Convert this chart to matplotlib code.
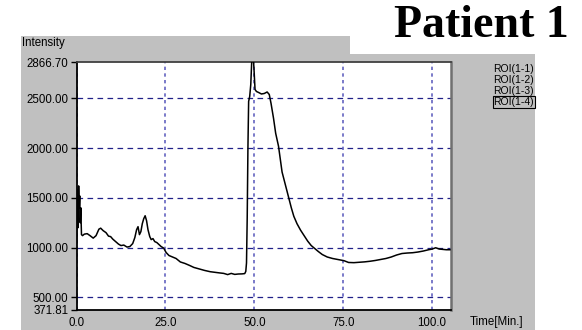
import matplotlib
matplotlib.use('Agg')
import matplotlib.pyplot as plt
from matplotlib.patches import Rectangle

# trace (minutes, intensity)
time = [0.0, 0.15, 0.3, 0.45, 0.6, 0.75, 0.9, 1.05, 1.2, 1.4,
        1.7, 2.2, 3.0, 3.8, 4.7, 5.5, 6.3, 6.8, 7.5, 8.3,
        9.0, 9.6, 10.2, 11.0, 11.8, 12.5, 13.3, 14.2, 15.0, 15.8,
        16.4, 16.9, 17.3, 17.7, 18.1, 18.5, 18.9, 19.3, 19.7, 20.1,
        20.6, 21.0, 21.5, 22.0, 22.6, 23.2, 23.8, 24.5, 25.2, 26.0,
        27.0, 28.0, 29.2, 30.5, 31.8, 33.0, 34.5, 36.0, 37.6, 39.0,
        40.2, 41.4, 42.5, 43.5, 44.5, 45.5, 46.5, 47.3, 47.6, 47.8,
        48.0, 48.2, 48.4, 48.7, 49.0, 49.3, 49.6, 49.9, 50.2, 50.6,
        51.2, 52.0, 52.8, 53.6, 54.2, 54.7, 55.4, 56.0, 56.8, 57.8,
        58.8, 59.7, 60.4, 61.1, 62.0, 63.0, 64.0, 65.0, 66.0, 67.0,
        68.0, 69.1, 70.5, 72.0, 73.5, 75.2, 76.5, 78.0, 79.5, 81.0,
        82.5, 84.0, 85.5, 87.0, 88.5, 90.0, 91.5, 93.0, 94.5, 96.0,
        97.5, 99.0, 100.0, 101.0, 102.0, 103.0, 104.0, 105.0]
intensity = [1050, 1350, 1580, 1200, 1620, 1400, 1520, 1250, 1400, 1130,
             1120, 1135, 1140, 1120, 1095, 1120, 1185, 1195, 1170, 1150,
             1115, 1110, 1085, 1060, 1035, 1020, 1025, 1005, 1010, 1040,
             1100, 1180, 1210, 1130, 1160, 1240, 1290, 1320, 1270, 1180,
             1110, 1080, 1090, 1060, 1050, 1030, 1010, 995, 950, 920,
             905, 890, 855, 840, 820, 800, 785, 770, 757, 750,
             745, 740, 728, 740, 730, 734, 735, 738, 760, 845,
             1300, 2000, 2470, 2520, 2640, 2900, 2980, 2800, 2590, 2570,
             2560, 2545, 2550, 2565, 2540, 2450, 2300, 2150, 2020, 1760,
             1620, 1490, 1400, 1315, 1240, 1175, 1120, 1065, 1020, 990,
             960, 930, 905, 890, 880, 868, 850, 848, 852, 856,
             862, 870, 880, 890, 905, 925, 940, 945, 948, 955,
             965, 978, 985, 998, 985, 982, 978, 978]

y_ticks = [371.81, 500, 1000, 1500, 2000, 2500, 2866.70]
x_ticks = [0, 25, 50, 75, 100]
grid_y = [500, 1000, 1500, 2000, 2500]
grid_x = [0, 25, 50, 75, 100]
rois = ['ROI(1-1)', 'ROI(1-2)', 'ROI(1-3)', 'ROI(1-4)']

W, H = 582, 330
fig = plt.figure(figsize=(W / 100, H / 100), dpi=100)
fig.patch.set_facecolor('white')

# grey panel and white title box
fig.patches.append(Rectangle((21 / W, 0), (535 - 21) / W, 1 - 36 / H,
                             transform=fig.transFigure, facecolor='#c0c0c0',
                             edgecolor='none', zorder=-2))
fig.patches.append(Rectangle((350 / W, 1 - 54 / H), (W - 350) / W, 54 / H,
                             transform=fig.transFigure, facecolor='white',
                             edgecolor='none', zorder=-1))

ax = fig.add_axes([76.5 / W, 1 - 310 / H, (451 - 76.5) / W, (310 - 62) / H])
ax.set_facecolor('white')

for g in grid_y:
    ax.axhline(g, color='#202088', lw=0.9, dashes=(4.5, 3.5), zorder=1)
for g in grid_x:
    ax.axvline(g, color='#6464c0', lw=1.2, dashes=(2, 2), zorder=1)

ax.plot(time, intensity, color='black', lw=1.1, zorder=3)

ax.set_xlim(0, 105.3)
ax.set_ylim(371.81, 2866.70)
ax.set_yticks(y_ticks)
ax.set_yticklabels(['%.2f' % v for v in y_ticks])
ax.set_xticks(x_ticks)
ax.set_xticklabels(['%.1f' % v for v in x_ticks])

lab_font = dict(family='Liberation Sans', size=8.3)
for lbl in ax.get_xticklabels() + ax.get_yticklabels():
    lbl.set_fontfamily('Liberation Sans')
    lbl.set_fontsize(8.3)
ax.tick_params(axis='y', length=4, width=1, pad=2, color='black')
ax.tick_params(axis='x', length=0, pad=5)

ax.spines['left'].set_color('black')
ax.spines['bottom'].set_color('black')
ax.spines['left'].set_linewidth(1.3)
ax.spines['bottom'].set_linewidth(1.3)
ax.spines['top'].set_color('#404040')
ax.spines['right'].set_color('#707070')
ax.spines['top'].set_linewidth(1.3)
ax.spines['right'].set_linewidth(1.8)

fig.text(22 / W, 1 - 43 / H, 'Intensity', ha='left', va='center', **lab_font)
fig.text(470 / W, 1 - 322 / H, 'Time[Min.]', ha='left', va='center', **lab_font)

fig.text(569 / W, 1 - 37 / H, 'Patient 1', ha='right', va='baseline',
         family='Liberation Serif', weight='bold', size=33, zorder=5)

for i, name in enumerate(rois):
    t = fig.text(534 / W, 1 - (69 + 11 * i) / H, name, ha='right', va='center',
                 family='Liberation Sans', size=7.5)
    if i == len(rois) - 1:
        t.set_bbox(dict(facecolor='none', edgecolor='black', lw=0.8,
                        boxstyle='square,pad=0.05'))

fig.savefig('out.png', dpi=100)
